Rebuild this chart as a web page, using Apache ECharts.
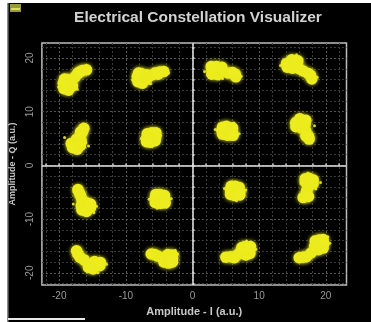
<!DOCTYPE html>
<html>
<head>
<meta charset="utf-8">
<script src="https://cdn.jsdelivr.net/npm/echarts@6/dist/echarts.min.js"></script>
<style>
html,body{margin:0;padding:0;background:#fff;}
#chart{width:371px;height:322px;}
</style>
</head>
<body>
<div id="chart"></div>
<script>
// ---- data (I = in-phase, Q = quadrature, a.u.) ----
const titleText = 'Electrical Constellation Visualizer';
const xName = 'Amplitude - I (a.u.)';
const yName = 'Amplitude - Q (a.u.)';
const gridValues = [-22,-20,-18,-16,-14,-12,-10,-8,-6,-4,-2,0,2,4,6,8,10,12,14,16,18,20,22];
const labelValues = [-20,-10,0,10,20];

// upper-left quadrant clusters
const coreUL = [
  [-18.7,15.0],[-19.4,15.3],[-18.0,14.8],[-18.8,16.0],[-18.6,14.0],[-19.3,14.3],[-18.1,15.8],[-19.2,16.1],
  [-17.6,16.5],[-17.2,17.2],[-16.5,17.7],[-15.9,17.8],[-16.9,17.4],
  [-7.6,16.2],[-8.3,16.5],[-6.9,16.0],[-7.7,17.1],[-7.5,15.3],[-8.2,15.6],[-6.9,16.9],[-8.1,17.2],
  [-6.2,16.8],[-5.6,17.2],[-4.9,17.4],[-4.3,17.5],[-5.2,17.0],
  [-17.5,3.9],[-18.2,4.1],[-16.8,3.7],[-17.4,4.9],[-17.3,3.0],[-18.0,3.3],[-16.7,4.6],
  [-16.8,5.5],[-16.5,6.3],[-16.3,6.9],[-16.8,6.2],
  [-6.2,5.2],[-6.9,5.0],[-5.5,5.4],[-6.1,6.1],[-6.3,4.3],[-5.6,4.6],[-6.8,5.9],[-5.5,6.1],[-6.9,4.4]
];
// upper-right quadrant clusters
const coreUR = [
  [3.7,17.6],[2.9,17.8],[4.5,17.4],[3.6,18.4],[3.8,16.9],[2.9,17.0],[4.4,18.3],[2.8,18.4],
  [5.4,17.2],[6.4,17.0],[6.5,16.5],[6.0,17.3],
  [14.9,18.9],[14.1,19.0],[15.7,18.8],[14.9,19.7],[15.0,18.1],[14.2,18.3],[15.8,19.5],[16.0,18.0],
  [16.6,17.6],[17.7,16.8],[17.9,16.1],[17.4,17.1],
  [5.2,6.4],[4.4,6.5],[6.0,6.2],[5.1,7.3],[5.3,5.6],[4.5,5.8],[6.0,7.0],[4.5,7.1],[6.1,5.6],
  [16.2,7.8],[15.5,8.0],[16.9,7.6],[16.1,8.7],[16.3,7.0],[15.5,7.2],[17.0,8.4],
  [17.0,6.4],[17.4,5.4],[17.5,4.9],[17.0,5.5]
];
// lower-left quadrant clusters
const coreLL = [
  [-17.0,-5.1],[-17.2,-4.5],[-16.8,-5.6],[-16.6,-6.4],
  [-16.0,-7.8],[-16.7,-7.5],[-15.3,-7.9],[-16.0,-6.9],[-15.9,-8.6],[-16.6,-8.3],[-15.3,-7.2],
  [-4.9,-6.3],[-5.6,-6.1],[-4.2,-6.4],[-4.9,-5.4],[-4.8,-7.1],[-5.6,-6.9],[-4.2,-5.6],[-5.5,-5.4],[-4.1,-7.0],
  [-17.2,-16.5],[-17.4,-15.9],[-16.9,-17.1],[-16.3,-17.6],
  [-14.8,-18.6],[-15.7,-18.3],[-13.9,-18.7],[-14.9,-19.3],[-14.7,-17.9],[-15.6,-19.0],[-13.8,-18.1],
  [-5.7,-16.6],[-6.2,-16.5],[-5.2,-16.9],
  [-3.7,-17.4],[-4.4,-17.3],[-3.0,-17.3],[-3.7,-16.6],[-3.6,-18.2],[-4.3,-18.0],[-3.0,-16.7],[-3.0,-18.0]
];
// lower-right quadrant clusters
const coreLR = [
  [6.4,-4.8],[5.7,-4.6],[7.1,-4.9],[6.4,-3.9],[6.3,-5.6],[5.7,-5.4],[7.0,-4.1],[5.8,-3.9],[7.1,-5.5],
  [17.5,-3.3],[16.9,-3.1],[18.1,-3.4],[17.5,-2.4],[17.4,-4.0],[16.9,-2.5],[18.1,-2.7],
  [17.1,-4.8],[17.0,-5.7],[16.6,-6.0],[17.4,-5.8],
  [5.7,-17.0],[5.0,-17.1],[6.3,-17.2],[6.8,-16.6],
  [7.9,-15.9],[7.2,-16.2],[8.6,-15.8],[7.9,-15.1],[8.0,-16.7],[8.6,-16.4],[7.4,-15.3],[8.7,-15.1],
  [16.6,-17.1],[16.0,-17.2],[17.1,-17.0],[17.8,-16.3],
  [19.0,-14.8],[18.3,-15.1],[19.7,-14.6],[19.0,-13.9],[18.9,-15.7],[19.6,-15.4],[18.4,-14.1],[19.6,-13.8]
];
// isolated noisy samples around the clusters
const strays = [
  [-20.1,14.6],[-17.3,14.2],[-15.3,17.9],[-9.0,15.9],[-6.3,15.2],[-3.6,17.2],
  [-19.2,5.2],[-15.6,3.6],[-16.0,4.2],[-7.7,5.0],[-4.8,5.6],
  [1.8,17.5],[7.3,16.6],[4.5,16.2],[13.2,18.6],[15.6,20.6],[18.7,16.4],
  [3.4,6.7],[7.0,5.9],[6.2,7.9],[14.8,7.9],[18.3,7.4],[18.0,5.0],
  [-14.4,-7.6],[-17.9,-7.2],[-14.8,-8.8],[-3.2,-6.2],[-5.3,-8.0],[-6.5,-6.3],
  [-12.9,-18.4],[-15.8,-17.0],[-14.2,-20.0],[-2.2,-16.5],[-2.6,-15.8],[-4.8,-18.5],
  [4.8,-4.3],[8.0,-4.6],[6.6,-6.6],[19.2,-3.2],[18.5,-4.4],[17.3,-1.4],
  [9.5,-15.6],[8.1,-14.1],[9.2,-16.5],[20.6,-14.5],[20.3,-13.3],[18.2,-16.5]
];

const yellow = '#ecec1e';
const chart = echarts.init(document.getElementById('chart'), null, {renderer: 'canvas'});

function coreSeries(name, data) {
  return {
    name: name, type: 'scatter', data: data, symbolSize: 11.5,
    itemStyle: {color: yellow, opacity: 1, shadowBlur: 4, shadowColor: 'rgba(236,236,30,0.8)'},
    silent: true, animation: false
  };
}

const axisCommon = {
  type: 'value',
  axisLine: {show: false},
  axisTick: {show: true, inside: true, length: 2, customValues: gridValues,
             lineStyle: {color: '#cfcfcf', width: 1.5}},
  splitLine: {show: true, lineStyle: {
    color: ['#3d3d3d', '#585858', '#3d3d3d', '#3d3d3d', '#3d3d3d'],
    width: 1, type: [2, 2]}},
  axisLabel: {customValues: labelValues, color: '#9a9a9a', fontSize: 10,
              fontFamily: 'Liberation Sans'},
  nameLocation: 'middle'
};

chart.setOption({
  backgroundColor: '#000',
  animation: false,
  title: {
    text: titleText, left: 193, top: 5, textAlign: 'center',
    textStyle: {color: '#d2d2d2', fontSize: 15.5, fontWeight: 'bold', fontFamily: 'Liberation Sans'}
  },
  grid: {
    left: 37.5, top: 43, right: 24.5, bottom: 29,
    show: true, borderColor: '#bdbdbd', borderWidth: 1.5, backgroundColor: 'transparent'
  },
  xAxis: Object.assign({}, axisCommon, {
    min: -22.6, max: 23.1, name: xName, nameGap: 19,
    nameTextStyle: {color: '#c8c8c8', fontSize: 11, fontWeight: 'bold', fontFamily: 'Liberation Sans'},
    axisLabel: Object.assign({}, axisCommon.axisLabel, {margin: 6})
  }),
  yAxis: Object.assign({}, axisCommon, {
    min: -22.3, max: 22.8, name: yName, nameGap: 20,
    nameTextStyle: {color: '#c8c8c8', fontSize: 9, fontWeight: 'bold', fontFamily: 'Liberation Sans'},
    axisLabel: Object.assign({}, axisCommon.axisLabel, {rotate: 90, margin: 7})
  }),
  graphic: [
    {type: 'rect', left: 0, top: 0, shape: {width: 7, height: 322}, style: {fill: '#fff'}, silent: true},
    {type: 'rect', left: 0, top: 0, shape: {width: 371, height: 3}, style: {fill: '#fff'}, silent: true},
    {type: 'rect', left: 7, top: 3, shape: {width: 1.5, height: 319}, style: {fill: '#8a8a8a'}, silent: true},
    {type: 'rect', left: 10, top: 4, shape: {width: 11, height: 8}, style: {fill: '#9a9a3a'}, silent: true},
    {type: 'rect', left: 11, top: 8, shape: {width: 9, height: 2}, style: {fill: '#d8e060'}, silent: true},
    {type: 'rect', left: 8, top: 318, shape: {width: 77, height: 2}, style: {fill: '#e8e8e8'}, silent: true}
  ],
  series: [
    coreSeries('UL', coreUL),
    coreSeries('UR', coreUR),
    coreSeries('LL', coreLL),
    coreSeries('LR', coreLR),
    {
      name: 'noise', type: 'scatter', data: strays, symbolSize: 3,
      itemStyle: {color: yellow, opacity: 0.9}, silent: true,
      markLine: {
        silent: true, symbol: 'none', label: {show: false},
        lineStyle: {color: '#e6e6e6', width: 1.5, type: 'solid'},
        data: [{xAxis: 0}, {yAxis: 0}]
      }
    }
  ]
});
</script>
</body>
</html>
